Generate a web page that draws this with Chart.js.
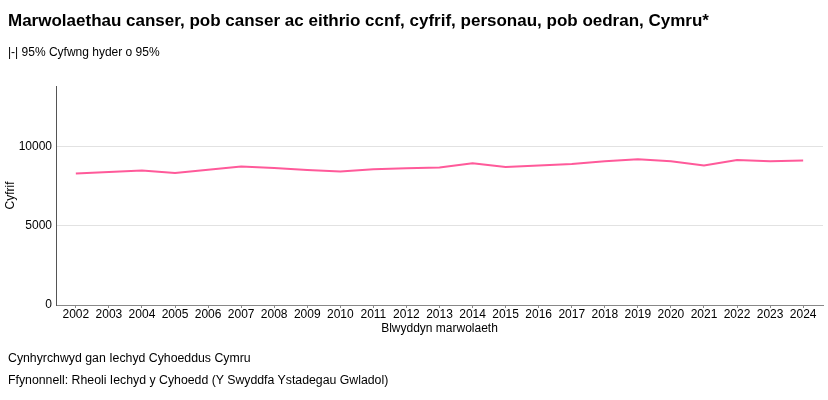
<!DOCTYPE html>
<html>
<head>
<meta charset="utf-8">
<script src="https://cdn.jsdelivr.net/npm/chart.js@4.4.1/dist/chart.umd.min.js"></script>
<style>
    body { margin: 0; background: #fff; font-family: "Liberation Sans", Arial, sans-serif; }
    #wrap { position: relative; width: 828px; height: 400px; }
    #chart { position: absolute; left: 0; top: 0; }
    .txt { position: absolute; left: 8px; color: #000; white-space: nowrap; }
    #title { top: 11px; font-size: 17px; font-weight: bold; }
    #sub { top: 45px; font-size: 12px; }
    #foot1 { top: 351px; font-size: 12.3px; }
    #foot2 { top: 373px; font-size: 12.3px; }
</style>
</head>
<body>
<div id="wrap">
    <canvas id="chart" width="828" height="400"></canvas>
    <div class="txt" id="title">Marwolaethau canser, pob canser ac eithrio ccnf, cyfrif, personau, pob oedran, Cymru*</div>
    <div class="txt" id="sub">|-| 95% Cyfwng hyder o 95%</div>
    <div class="txt" id="foot1">Cynhyrchwyd gan Iechyd Cyhoeddus Cymru</div>
    <div class="txt" id="foot2">Ffynonnell: Rheoli Iechyd y Cyhoedd (Y Swyddfa Ystadegau Gwladol)</div>
</div>
<script>
// Chart data
const years = [2002, 2003, 2004, 2005, 2006, 2007, 2008, 2009, 2010, 2011, 2012,
    2013, 2014, 2015, 2016, 2017, 2018, 2019, 2020, 2021, 2022, 2023, 2024];
const deaths = [8283, 8384, 8469, 8323, 8530, 8720, 8637, 8512, 8407, 8553, 8616,
    8658, 8930, 8700, 8784, 8888, 9057, 9182, 9057, 8784, 9140, 9057, 9098];
const yTicks = [0, 5000, 10000];

const font = { family: '"Liberation Sans", Arial, sans-serif', size: 12 };

new Chart(document.getElementById('chart'), {
    type: 'line',
    data: {
        datasets: [{
            label: 'Cyfrif',
            data: years.map((y, i) => ({ x: y, y: deaths[i] })),
            borderColor: '#ff5a9a',
            borderWidth: 2,
            pointRadius: 0,
            tension: 0,
            fill: false
        }]
    },
    options: {
        responsive: false,
        animation: false,
        layout: { padding: { top: 86, right: 5, bottom: 64, left: 0 } },
        plugins: {
            legend: { display: false },
            tooltip: { enabled: false }
        },
        scales: {
            x: {
                type: 'linear',
                min: 2001.4,
                max: 2024.6,
                afterBuildTicks: scale => { scale.ticks = years.map(v => ({ value: v })); },
                afterFit: scale => { scale.height = 31; },
                grid: { drawOnChartArea: false, drawTicks: true, tickLength: 3, color: '#888' },
                border: { display: true, color: '#888', width: 1 },
                ticks: { font: font, color: '#000', padding: -1, maxRotation: 0, autoSkip: false,
                    callback: v => String(v) },
                title: { display: true, text: 'Blwyddyn marwolaeth', font: font, color: '#000',
                    padding: { top: 0, bottom: 0 } }
            },
            y: {
                min: 0,
                max: 13800,
                afterBuildTicks: scale => { scale.ticks = yTicks.map(v => ({ value: v })); },
                afterFit: scale => { scale.width = 56; },
                grid: { color: '#e2e2e2', drawTicks: false },
                border: { display: true, color: '#555', width: 1 },
                ticks: { font: font, color: '#000', padding: 4, callback: v => String(v) },
                title: { display: true, text: 'Cyfrif', font: font, color: '#000', padding: { top: 3, bottom: 0 } }
            }
        }
    }
});
</script>
</body>
</html>
